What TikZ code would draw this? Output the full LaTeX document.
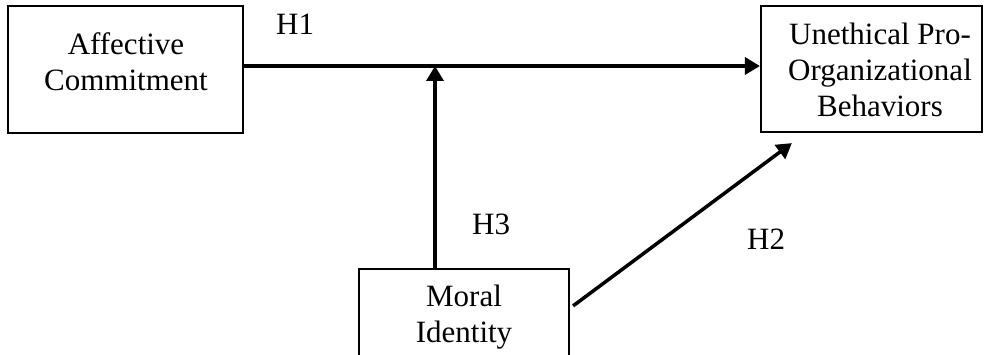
\documentclass[tikz,border=0pt]{standalone}
\usepackage{fontspec}
\setmainfont{Liberation Serif}
\usetikzlibrary{calc, arrows.meta}

\begin{document}
\begin{tikzpicture}[x=1pt, y=-1pt,
  box/.style={draw, line width=2.2pt, inner sep=0pt},
  txt/.style={anchor=base, align=center, inner sep=0pt, font=\fontsize{31}{36}\selectfont},
  hyp/.style={anchor=base west, inner sep=0pt, font=\fontsize{31}{36}\selectfont},
  arr/.style={line width=3.5pt, -{Triangle[length=15pt, width=17pt]}}]

\clip (0,0) rectangle (984,355);

\node [box, minimum width=235pt, minimum height=127pt] (ac) at (125.5,69.5) {};
\node [box, minimum width=221pt, minimum height=126pt] (upb) at (871.5,69) {};
\node [box, minimum width=210pt, minimum height=96pt] (mi) at (464,317) {};

% base anchor sits on the last line
\node [txt] (ac-t) at (126,91) {Affective\\Commitment};
\node [txt] (upb-t) at (880,117) {Unethical Pro-\\Organizational\\Behaviors};
\node [txt] (mi-t) at (464,342) {Moral\\Identity};

\coordinate (j) at (435,66);

\draw [arr] (ac.east |- j) -- (upb.west |- j);
\draw [arr] (mi.north -| j) -- (j);
\draw [arr] ($(mi.north east)+(3,38)$) -- ($(upb.south west)+(32,10)$);

\node [hyp] (h1) at (276,35) {H1};
\node [hyp] (h3) at (472,235) {H3};
\node [hyp] (h2) at (747,250) {H2};

\end{tikzpicture}
\end{document}
